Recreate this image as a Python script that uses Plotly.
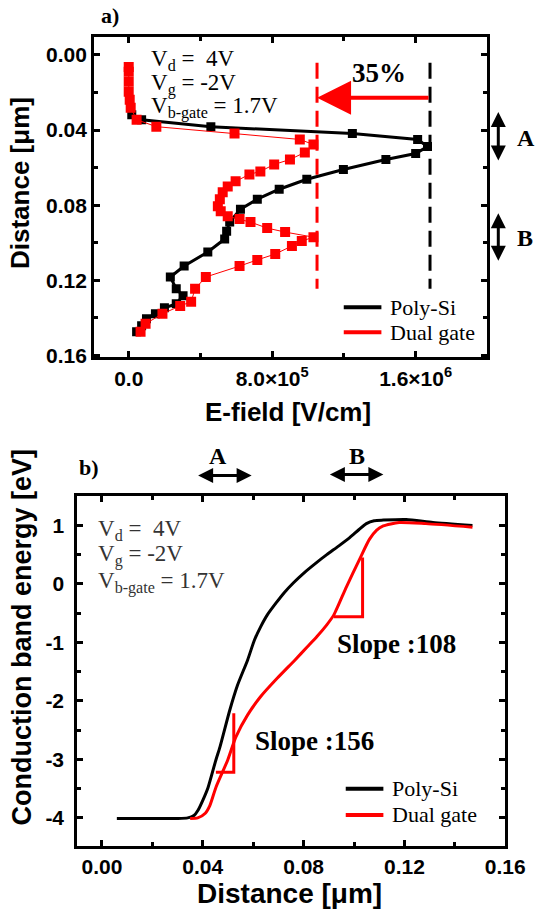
import plotly.graph_objects as go

W, H = 550, 915
# effective drawing size observed in the browser (used to place items in paper coords)
WE, HE = 535, 905

# ---------------- Panel a) : E-field vs distance ----------------
poly_efield = [1.7e4, 7.2e4, 4.58e5, 1.247e6, 1.611e6, 1.666e6, 1.60e6, 1.434e6, 1.197e6,
               9.93e5, 8.39e5, 7.17e5, 6.23e5, 5.63e5, 5.46e5, 5.35e5, 4.41e5, 3.09e5,
               2.32e5, 2.65e5, 3.03e5, 2.65e5, 1.99e5, 1.49e5, 9.9e4, 7.2e4, 4.4e4]
poly_depth = [0.0318, 0.0345, 0.0382, 0.0419, 0.0450, 0.0488, 0.0525, 0.0557, 0.0610,
              0.0662, 0.0715, 0.0768, 0.0821, 0.0890, 0.0938, 0.0980, 0.1049, 0.1124,
              0.1182, 0.1245, 0.1282, 0.1325, 0.1346, 0.1378, 0.1404, 0.1441, 0.1473]

dual_efield = [0, 0, 0, 0, 5.5e3, 1.1e4, 4.4e4, 1.54e5, 5.9e5, 9.54e5, 1.03e6, 9.82e5,
               8.99e5, 8.11e5, 7.34e5, 6.73e5, 5.96e5, 5.52e5, 5.24e5, 5.08e5, 4.97e5,
               5.13e5, 5.52e5, 6.18e5, 6.79e5, 7.72e5, 8.72e5, 1.03e6, 9.65e5, 9.10e5,
               8.17e5, 7.17e5, 6.18e5, 4.30e5, 3.70e5, 3.48e5, 2.87e5, 1.88e5, 9.4e4, 6.6e4]
dual_depth = [0.0064, 0.0090, 0.0143, 0.0196, 0.0239, 0.0281, 0.0345, 0.0382, 0.0419,
              0.0450, 0.0477, 0.0519, 0.0557, 0.0583, 0.0620, 0.0636, 0.0673, 0.0700,
              0.0731, 0.0768, 0.0806, 0.0832, 0.0859, 0.0874, 0.0890, 0.0922, 0.0943,
              0.0970, 0.0991, 0.1017, 0.1060, 0.1091, 0.1124, 0.1182, 0.1245, 0.1314,
              0.1336, 0.1378, 0.1431, 0.1473]

peak_poly = 1.68e6
peak_dual = 1.05e6
peak_line_depth = [0.0042, 0.1245]
arrow_depth = 0.0228

a_xticks = [0, 8e5, 1.6e6]
a_xticktext = ["0.0", "8.0×10<sup>5</sup>", "1.6×10<sup>6</sup>"]
a_xminor = [4e5, 1.2e6]
a_yticks = [0.0, 0.04, 0.08, 0.12, 0.16]
a_yticktext = ["0.00", "0.04", "0.08", "0.12", "0.16"]
a_yminor = [0.02, 0.06, 0.10, 0.14]

# ---------------- Panel b) : conduction band energy ----------------
poly_x = [0.0059, 0.0300, 0.0340, 0.0365, 0.0381, 0.0400, 0.0421, 0.0452, 0.0468, 0.0507,
          0.0538, 0.0578, 0.0605, 0.0630, 0.0656, 0.0690, 0.0723, 0.0760, 0.0802, 0.0850,
          0.0892, 0.0940, 0.0983, 0.1020, 0.1049, 0.1080, 0.1116, 0.1207, 0.1313, 0.147]
poly_ec = [-4.01, -4.01, -4.00, -3.96, -3.87, -3.70, -3.48, -3.01, -2.79, -2.16,
           -1.73, -1.30, -0.96, -0.73, -0.53, -0.33, -0.15, 0.02, 0.19, 0.36,
           0.50, 0.65, 0.79, 0.93, 1.03, 1.08, 1.09, 1.10, 1.05, 1.00]

dual_x = [0.035, 0.0380, 0.0410, 0.0428, 0.0452, 0.0499, 0.0531, 0.0578, 0.0629, 0.0696,
          0.0766, 0.0814, 0.0853, 0.0892, 0.0920, 0.0970, 0.1022, 0.1061, 0.1090, 0.1116,
          0.1179, 0.1285, 0.147]
dual_ec = [-4.01, -4.00, -3.92, -3.79, -3.48, -3.01, -2.62, -2.24, -1.93, -1.61,
           -1.30, -1.08, -0.90, -0.70, -0.53, -0.05, 0.42, 0.76, 0.92, 0.99,
           1.05, 1.03, 0.97]

slope1_x = [0.0452, 0.0523, 0.0523]
slope1_y = [-3.22, -3.22, -2.21]
slope2_x = [0.0920, 0.1034, 0.1034]
slope2_y = [-0.56, -0.56, 0.45]

b_xticks = [0.0, 0.04, 0.08, 0.12, 0.16]
b_xticktext = ["0.00", "0.04", "0.08", "0.12", "0.16"]
b_xminor = [0.02, 0.06, 0.10, 0.14]
b_yticks = [-4, -3, -2, -1, 0, 1]
b_yticktext = ["-4", "-3", "-2", "-1", "0", "1"]
b_yminor = [-3.5, -2.5, -1.5, -0.5, 0.5]

legend_names = ["Poly-Si", "Dual gate"]
legend_colors = ["black", "red"]

SANS = "Liberation Sans"
SERIF = "Liberation Serif"


def px(xp):
    return xp / WE


def py(yp):
    return 1 - yp / HE


fig = go.Figure()

# panel a traces
fig.add_trace(go.Scatter(x=poly_efield, y=poly_depth, mode="lines+markers", name="Poly-Si",
                         line=dict(color="black", width=3),
                         marker=dict(symbol="square", size=9, color="black"),
                         showlegend=False, xaxis="x", yaxis="y"))
fig.add_trace(go.Scatter(x=dual_efield, y=dual_depth, mode="lines+markers", name="Dual gate",
                         line=dict(color="red", width=1),
                         marker=dict(symbol="square", size=10, color="red"),
                         showlegend=False, xaxis="x", yaxis="y"))
fig.add_trace(go.Scatter(x=[peak_poly, peak_poly], y=peak_line_depth, mode="lines",
                         line=dict(color="black", width=3, dash="16px,8px"),
                         showlegend=False, xaxis="x", yaxis="y"))
fig.add_trace(go.Scatter(x=[peak_dual, peak_dual], y=peak_line_depth, mode="lines",
                         line=dict(color="red", width=3, dash="16px,8px"),
                         showlegend=False, xaxis="x", yaxis="y"))

# panel b traces
fig.add_trace(go.Scatter(x=poly_x, y=poly_ec, mode="lines", name="Poly-Si",
                         line=dict(color="black", width=3, shape="spline", smoothing=0.6),
                         showlegend=False, xaxis="x2", yaxis="y2"))
fig.add_trace(go.Scatter(x=dual_x, y=dual_ec, mode="lines", name="Dual gate",
                         line=dict(color="red", width=3, shape="spline", smoothing=0.6),
                         showlegend=False, xaxis="x2", yaxis="y2"))
fig.add_trace(go.Scatter(x=slope1_x, y=slope1_y, mode="lines",
                         line=dict(color="red", width=3), showlegend=False,
                         xaxis="x2", yaxis="y2"))
fig.add_trace(go.Scatter(x=slope2_x, y=slope2_y, mode="lines",
                         line=dict(color="red", width=3), showlegend=False,
                         xaxis="x2", yaxis="y2"))

tickfont = dict(family=SANS, size=21, color="black", weight="bold")


def axis_common():
    return dict(showline=True, linewidth=3, linecolor="black", mirror="ticks",
                ticks="inside", ticklen=6, tickwidth=3, tickcolor="black",
                showgrid=False, zeroline=False, tickfont=tickfont)


def minor(vals):
    return dict(tickvals=vals, ticks="inside", ticklen=4, tickwidth=3, tickcolor="black")


xa = axis_common()
xa.update(domain=[px(95), px(492)], range=[-1.93e5, 2.0e6], anchor="y",
          tickvals=a_xticks, ticktext=a_xticktext, minor=minor(a_xminor))
ya = axis_common()
ya.update(domain=[py(357), py(37)], range=[0.161, -0.0095], anchor="x",
          tickvals=a_yticks, ticktext=a_yticktext, minor=minor(a_yminor))
xb = axis_common()
xb.update(domain=[px(78), px(510)], range=[-0.0098, 0.16], anchor="y2",
          tickvals=b_xticks, ticktext=b_xticktext, minor=minor(b_xminor))
yb = axis_common()
yb.update(domain=[py(845), py(495)], range=[-4.48, 1.51], anchor="x2",
          tickvals=b_yticks, ticktext=b_yticktext, ticklabelstandoff=6,
          minor=minor(b_yminor))

annotations = []
shapes = []


def text(t, x, y, size, family=SERIF, bold=False, xanchor="left", angle=0,
         color="black"):
    annotations.append(dict(text=t, x=px(x), y=py(y), xref="paper", yref="paper",
                            xanchor=xanchor, yanchor="middle", showarrow=False,
                            textangle=angle,
                            font=dict(family=family, size=size, color=color,
                                      weight="bold" if bold else "normal")))


def arrow(x, y, ax, ay, color="black", width=3, size=1.0):
    annotations.append(dict(text="", x=px(x), y=py(y), xref="paper", yref="paper",
                            ax=ax, ay=ay, showarrow=True, arrowside="end+start",
                            arrowhead=2, arrowsize=size, arrowwidth=width,
                            arrowcolor=color, standoff=0, startstandoff=0))


def legend(x0, y0, dy):
    for i, (name, col) in enumerate(zip(legend_names, legend_colors)):
        yy = y0 + i * dy
        shapes.append(dict(type="line", xref="paper", yref="paper",
                           x0=px(x0), x1=px(x0 + 38), y0=py(yy), y1=py(yy),
                           line=dict(color=col, width=4)))
        text(name, x0 + 45, yy, 22)


# panel a labels
text("a)", 100, 15, 22, bold=True)
text("V<sub>d</sub> =  4V", 150, 60, 23)
text("V<sub>g</sub> = -2V", 150, 84, 23)
text("V<sub>b-gate</sub> = 1.7V", 150, 107, 23)
text("35%", 383, 73, 27, bold=True, xanchor="center")
text("A", 520, 138, 24, bold=True)
text("B", 520, 238, 24, bold=True)
arrow(503, 112, 0, 50)
arrow(503, 213, 0, 49)
text("Distance [μm]", 20, 183, 26, family=SANS, bold=True, xanchor="center", angle=-90)
text("E-field [V/cm]", 291, 412, 26, family=SANS, bold=True, xanchor="center")
legend(347, 307, 25)

annotations.append(dict(text="", x=peak_dual, y=arrow_depth, xref="x", yref="y",
                        ax=peak_poly, ay=arrow_depth, axref="x", ayref="y",
                        showarrow=True, arrowhead=2, arrowsize=1.7, arrowwidth=4,
                        arrowcolor="red", standoff=0))

# panel b labels
text("b)", 78, 467, 22, bold=True)
text("A", 220, 455, 24, bold=True, xanchor="center")
text("B", 360, 455, 24, bold=True, xanchor="center")
arrow(200, 475, 55, 0)
arrow(333, 474, 55, 0)
text("V<sub>d</sub> =  4V", 97, 529, 23, color="#333")
text("V<sub>g</sub> = -2V", 97, 555, 23, color="#333")
text("V<sub>b-gate</sub> = 1.7V", 97, 582, 23, color="#333")
text("Slope :108", 338, 643, 27, bold=True)
text("Slope :156", 255, 740, 27, bold=True)
text("Conduction band energy [eV]", 22, 636, 27, family=SANS, bold=True,
     xanchor="center", angle=-90)
text("Distance [μm]", 292, 893, 28, family=SANS, bold=True, xanchor="center")
legend(349, 788, 26)

fig.update_layout(
    width=W, height=H, autosize=False,
    margin=dict(l=0, r=0, t=0, b=0),
    paper_bgcolor="white", plot_bgcolor="white",
    xaxis=xa, yaxis=ya, xaxis2=xb, yaxis2=yb,
    annotations=annotations, shapes=shapes, showlegend=False,
)

fig.write_html("out.html")
